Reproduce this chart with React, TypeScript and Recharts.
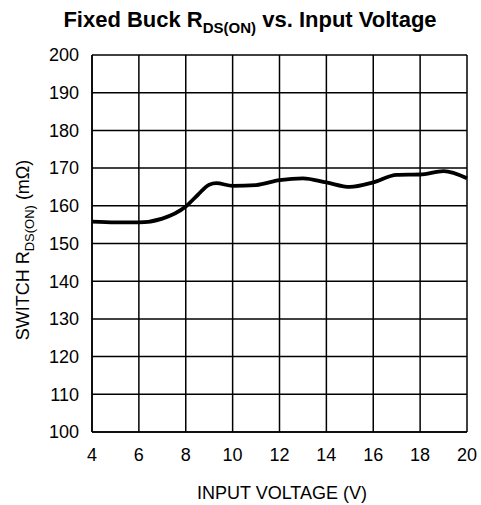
import React from "react";
import { LineChart, Line, XAxis, YAxis, CartesianGrid } from "recharts";

const voltage = [4, 5, 6, 7, 8, 8.5, 9, 9.3, 10, 11, 12, 13, 14, 15, 16, 17, 18, 19, 20];
const rdsOn = [155.8, 155.6, 155.6, 156.6, 159.8, 162.8, 165.6, 166.0, 165.3, 165.5, 166.8, 167.3, 166.2, 165.0, 166.2, 168.2, 168.3, 169.2, 167.3];
const xTicks = [4, 6, 8, 10, 12, 14, 16, 18, 20];
const yTicks = [100, 110, 120, 130, 140, 150, 160, 170, 180, 190, 200];

const data = voltage.map((v, i) => ({ v, r: rdsOn[i] }));

const font = "'Liberation Sans', Arial, sans-serif";

const App = () => {
  return (
    <div style={{ position: "absolute", left: 0, top: 0, width: 481, height: 505, background: "#fff" }}>
      <LineChart
        width={481}
        height={505}
        data={data}
        margin={{ top: 55, right: 14, left: 42, bottom: 43 }}
      >
        <CartesianGrid stroke="#000" strokeWidth={1.5} horizontalValues={yTicks} verticalValues={xTicks} />
        <XAxis
          dataKey="v"
          type="number"
          domain={[4, 20]}
          ticks={xTicks}
          height={30}
          tickSize={0}
          tickMargin={16}
          axisLine={{ stroke: "#000", strokeWidth: 1.5 }}
          tick={{ fill: "#000", fontSize: 18, fontFamily: font }}
        />
        <YAxis
          type="number"
          domain={[100, 200]}
          ticks={yTicks}
          width={50}
          tickSize={0}
          tickMargin={13}
          axisLine={{ stroke: "#000", strokeWidth: 1.5 }}
          tick={{ fill: "#000", fontSize: 18, fontFamily: font }}
        />
        <Line
          type="monotone"
          dataKey="r"
          stroke="#000"
          strokeWidth={3.8}
          dot={false}
          isAnimationActive={false}
        />
      </LineChart>
      <svg
        width={481}
        height={505}
        style={{ position: "absolute", left: 0, top: 0, pointerEvents: "none" }}
      >
        <text x={250} y={27} textAnchor="middle" fontFamily={font} fontSize={22} fontWeight="bold" fill="#000">
          Fixed Buck R
          <tspan fontSize={15} dy={6}>DS(ON)</tspan>
          <tspan dy={-6}> vs. Input Voltage</tspan>
        </text>
        <text x={282} y={499} textAnchor="middle" fontFamily={font} fontSize={18} fill="#000">
          INPUT VOLTAGE (V)
        </text>
        <text
          x={0}
          y={0}
          transform="translate(29,250) rotate(-90)"
          textAnchor="middle"
          fontFamily={font}
          fontSize={18}
          fill="#000"
        >
          SWITCH R
          <tspan fontSize={13} dy={5}>DS(ON)</tspan>
          <tspan dy={-5}> (mΩ)</tspan>
        </text>
      </svg>
    </div>
  );
};

export default App;
